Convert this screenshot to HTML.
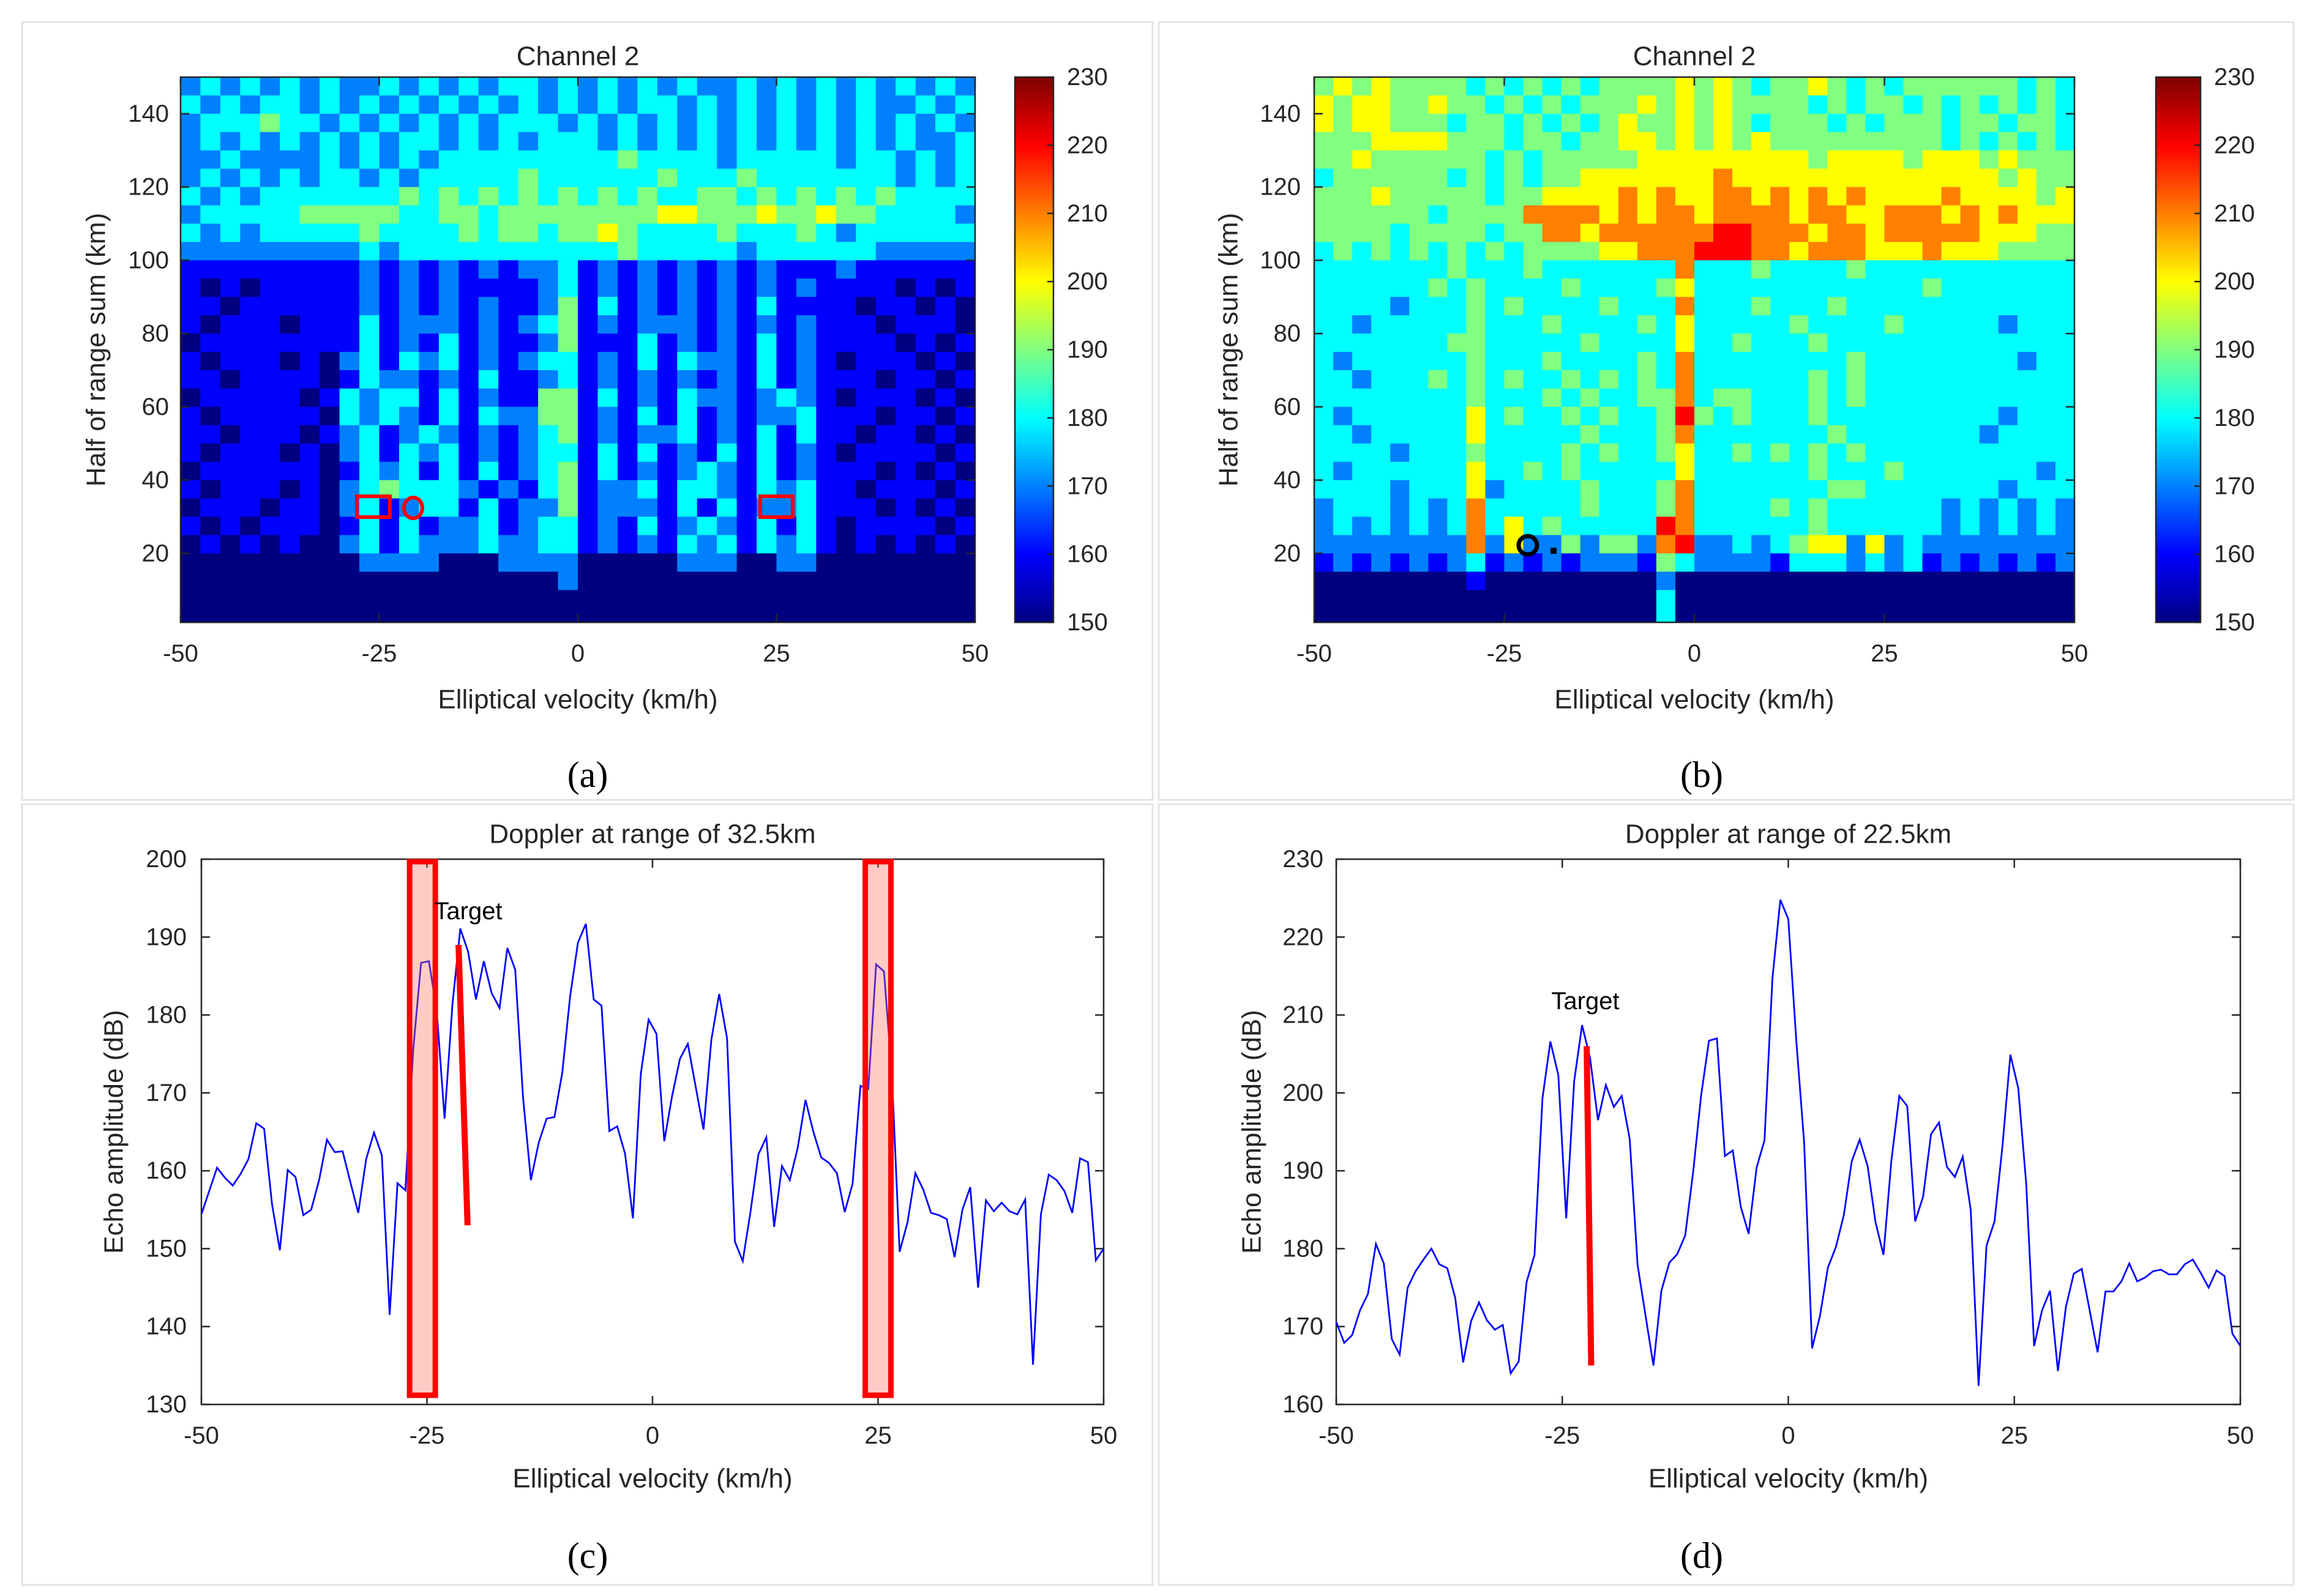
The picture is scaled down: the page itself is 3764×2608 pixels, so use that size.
<!DOCTYPE html>
<html><head><meta charset="utf-8"><style>
html,body{margin:0;padding:0;background:#fff}
svg{display:block}
text{font-family:"Liberation Sans",Arial,sans-serif;fill:#262626}
.lbl{font-family:"Liberation Serif",serif;fill:#000}
</style></head><body>
<svg id="fig" width="3764" height="2608" viewBox="0 0 3764 2608" xmlns="http://www.w3.org/2000/svg">
<rect x="0" y="0" width="3764" height="2608" fill="#fff"/>
<g fill="none" stroke="#e4e4e4" stroke-width="3">
<rect x="36" y="36" width="1847" height="1271"/>
<rect x="1893" y="36" width="1854" height="1271"/>
<rect x="36" y="1314" width="1847" height="1276"/>
<rect x="1893" y="1314" width="1854" height="1276"/>
</g>
<g id="root"></g>
</svg>
<script>
// ---------- DATA ----------
const heatA = [
"2323232322323232332323232322323232323232",
"3232332323232323232323233232323232322323",
"2333433232323232333232323232323232323232",
"2323232323233232323332323232323232323223",
"2232222323232333333333433332333332332323",
"2323232332323333343333334333433333332323",
"3232333333343434343434343344343434343333",
"2333334444433443444444445544454454433332",
"3232333334333343443445433334333432333333",
"2222222223233333333333433333233333322222",
"1111111112121212122312121212121112111111",
"1010111112121211112312121212121211110101",
"1101111112121212112413121212131111011010",
"1011101113122212123412122212121211101110",
"0111111113121312112411131212131211110101",
"1011101023132312123312131322131210111010",
"1101111013221213112312121212131211101101",
"0111110132331312114413121322123210111010",
"1011111032321313224412131312122311101101",
"1101110123123212123412122312131311011010",
"1011101023132312123313131213131210111101",
"0111111013231313123413121232131211101010",
"1011101023433321213412231332132311011101",
"0111011023123313122412221313122311101010",
"1010111013131223123312131232131310111101",
"0101010023132223223312121323132310101010",
"0000000002222000222200000222002200000000",
"0000000000000000000200000000000000000000",
"0000000000000000000000000000000000000000",
"0000000000000000000000000000000000000000"];
const heatB = [
"4545444434343434444545434454343444444343",
"5455445443434344454545444434344343434343",
"5455444344343434544545434443434443443443",
"4445555444344344554545454444444443434343",
"4454444443434444455555555545555455545444",
"3444444343434455555556555555555555554544",
"4445444443445555656556656565655556555545",
"4444443444466665656656666566556665656555",
"4444344443446656666667766656656666655544",
"3434343434344445566677766566655565554444",
"3333333433343333333633343333433333333333",
"3333334343333433334533333333333343333333",
"3333233343433334333633343334333333333333",
"3323333343334333343533333433334333332333",
"3333333443333343333533433343333333333333",
"3233333343334333343633333333433333333233",
"3323334343433434343633333343433333333333",
"3333333343334343344634433343433333333333",
"3233333353433434334743433343333333332333",
"3323333353333343334633333334333333323333",
"3333233343333434334533434343433333333333",
"3233333353343433333533333343334333333323",
"3333233352333343334633333334433333332333",
"2333232363333343334633334343333332323232",
"2323232363534333337633333343333332323232",
"2222222262522424426722323455252322222222",
"1212121231212122214322221333232312121212",
"0000000010000000002000000000000000000000",
"0000000000000000003000000000000000000000",
"0000000000000000003000000000000000000000"];
const doppC = [154.4,157.4,160.4,159.1,158.1,159.6,161.5,166.1,165.4,155.7,149.8,160.1,159.2,154.3,155.0,158.8,164.0,162.4,162.5,158.5,154.6,161.5,164.9,162.0,141.5,158.4,157.5,175.6,186.7,186.9,180.5,166.7,181.4,191.1,188.1,182.0,186.9,182.8,180.9,188.6,185.8,169.4,158.8,163.6,166.7,166.9,172.6,182.4,189.3,191.7,182.0,181.2,165.1,165.7,162.2,153.9,172.4,179.4,177.6,163.8,169.6,174.4,176.3,170.8,165.3,176.8,182.7,177.0,150.9,148.4,154.8,162.1,164.3,152.8,160.6,158.8,162.9,169.1,165.0,161.7,161.0,159.7,154.7,158.3,170.9,170.5,186.5,185.6,172.6,149.6,153.4,159.7,157.6,154.6,154.3,153.8,148.9,155.0,157.9,145.0,156.2,154.8,155.9,154.8,154.4,156.3,135.1,154.4,159.5,158.8,157.4,154.6,161.6,161.1,148.5,150.0];
const doppD = [170.6,167.9,168.9,172.1,174.2,180.6,178.1,168.4,166.4,175.0,177.1,178.6,180.0,178.0,177.5,173.7,165.4,170.7,173.1,170.8,169.6,170.2,164.0,165.5,175.7,179.2,199.3,206.6,202.3,183.9,201.5,208.7,204.5,196.5,201.0,198.2,199.6,194.1,177.9,171.4,165.0,174.6,178.2,179.3,181.7,189.8,199.6,206.7,207.0,191.9,192.6,185.4,181.9,190.4,193.9,214.7,224.8,222.3,206.8,193.6,167.2,171.4,177.6,180.2,184.3,191.2,194.0,190.6,183.4,179.2,191.3,199.6,198.3,183.5,186.7,194.7,196.2,190.5,189.2,191.8,185.0,162.4,180.4,183.5,193.1,204.9,200.6,188.3,167.5,172.1,174.6,164.3,172.5,176.8,177.4,172.1,166.7,174.5,174.5,175.8,178.1,175.8,176.3,177.1,177.3,176.7,176.7,178.0,178.6,176.9,175.0,177.2,176.5,169.1,167.5];
const xTicks = [-50,-25,0,25,50];
const rangeTicks = [20,40,60,80,100,120,140];
const cbarTicks = [150,160,170,180,190,200,210,220,230];
const cTicks = [130,140,150,160,170,180,190,200];
const dTicks = [160,170,180,190,200,210,220,230];
const targetC = [-21.5,189,-20.5,153];
const targetD = [-22.3,206,-21.8,165];
const boxesC = [-25.5,25];

// ---------- HELPERS ----------
const NS='http://www.w3.org/2000/svg';
const root=document.getElementById('root');
function mk(tag,attrs,parent){const e=document.createElementNS(NS,tag);for(const k in attrs)e.setAttribute(k,attrs[k]);(parent||root).appendChild(e);return e;}
function lin(d0,d1,r0,r1){return v=>r0+(v-d0)*(r1-r0)/(d1-d0);}
function jet(t){t=Math.max(0,Math.min(1,t));
 const f=(x)=>Math.max(0,Math.min(1,x));
 const r=f(Math.min(4*t-1.5,-4*t+4.5)),g=f(Math.min(4*t-0.5,-4*t+3.5)),b=f(Math.min(4*t+0.5,-4*t+2.5));
 return `rgb(${Math.round(r*255)},${Math.round(g*255)},${Math.round(b*255)})`;}
function txt(x,y,s,size,anchor,parent,name,cls){const t=mk('text',{x:x,y:y,'font-size':size,'text-anchor':anchor||'middle','dominant-baseline':'central'},parent);if(cls)t.setAttribute('class',cls);
 
 
 t.textContent=s;return t;}

function heatPanel(id,data,L,R,T,B,cbL,cbR,yLabX,yTickX){
 const g=mk('g',{});
 
 
 const sx=lin(-50,50,L,R), sy=lin(0,150,1024,126);
 const nr=data.length,nc=data[0].length;
 const cw=(R-L)/nc;
 for(let r=0;r<nr;r++){for(let c=0;c<nc;c++){
  const val=150+10*Number(data[r][c]);
  const km1=150-r*5, km0=km1-5;
  const y0=sy(km1), y1=Math.min(B,sy(km0));
  const x0=sx(-50+c*100/nc);
  const cell=mk('rect',{x:x0,y:y0,width:cw+0.6,height:y1-y0+0.6,fill:jet((val-150)/80)},g);
  
  
 }}
 const ax=mk('g',{stroke:'#262626','stroke-width':2.5,fill:'none'});
 
 
 mk('rect',{x:L,y:T,width:R-L,height:B-T},ax);
 xTicks.forEach(v=>{const x=sx(v);mk('line',{x1:x,y1:B,x2:x,y2:B-14},ax);mk('line',{x1:x,y1:T,x2:x,y2:T+14},ax);
  txt(x,1068,String(v),40,'middle',null,'x-tick-label');});
 rangeTicks.forEach(v=>{const y=sy(v);mk('line',{x1:L,y1:y,x2:L+14,y2:y},ax);mk('line',{x1:R,y1:y,x2:R-14,y2:y},ax);
  txt(yTickX,y,String(v),40,'end',null,'y-tick-label');});
 txt((L+R)/2,92,'Channel 2',44,'middle',null,'chart-title');
 txt((L+R)/2,1143,'Elliptical velocity (km/h)',44,'middle',null,'x-axis-title');
 const yl=txt(yLabX,(T+B)/2,'Half of range sum (km)',44,'middle',null,'y-axis-title');
 yl.setAttribute('transform',`rotate(-90 ${yLabX} ${(T+B)/2})`);
 const cb=mk('g',{});
 
 
 const cy=lin(150,230,B,T);
 for(let i=0;i<160;i++){const v0=150+i*0.5;mk('rect',{x:cbL,y:cy(v0+0.5),width:cbR-cbL,height:(B-T)/160+0.8,fill:jet((v0+0.25-150)/80)},cb);}
 mk('rect',{x:cbL,y:T,width:cbR-cbL,height:B-T,fill:'none',stroke:'#262626','stroke-width':2.5},cb);
 cbarTicks.forEach(v=>{const y=cy(v);mk('line',{x1:cbR,y1:y,x2:cbR-10,y2:y,stroke:'#262626','stroke-width':2.5},cb);
  txt(cbR+22,y,String(v),40,'start',cb,'colorbar-tick-label');});
 return {sx,sy};
}

function linePanel(id,data,L,R,T,B,ymin,ymax,ticks,title,yLabX,yTickX){
 const sx=lin(-50,50,L,R), sy=lin(ymin,ymax,B,T);
 const ax=mk('g',{stroke:'#262626','stroke-width':2.5,fill:'none'});
 
 
 mk('rect',{x:L,y:T,width:R-L,height:B-T,fill:'#fff'},ax);
 xTicks.forEach(v=>{const x=sx(v);mk('line',{x1:x,y1:B,x2:x,y2:B-14},ax);mk('line',{x1:x,y1:T,x2:x,y2:T+14},ax);
  txt(x,2346,String(v),40,'middle',null,'x-tick-label');});
 ticks.forEach(v=>{const y=sy(v);mk('line',{x1:L,y1:y,x2:L+14,y2:y},ax);mk('line',{x1:R,y1:y,x2:R-14,y2:y},ax);
  txt(yTickX,y,String(v),40,'end',null,'y-tick-label');});
 const n=data.length;
 const pts=data.map((v,i)=>`${sx(-50+i*100/(n-1)).toFixed(1)},${sy(v).toFixed(1)}`).join(' ');
 const pl=mk('polyline',{points:pts,fill:'none',stroke:'#0000ff','stroke-width':2.8,'stroke-linejoin':'miter'});
 
 
 txt((L+R)/2,1363,title,44,'middle',null,'chart-title');
 txt((L+R)/2,2416,'Elliptical velocity (km/h)',44,'middle',null,'x-axis-title');
 const yl=txt(yLabX,(T+B)/2,'Echo amplitude (dB)',44,'middle',null,'y-axis-title');
 yl.setAttribute('transform',`rotate(-90 ${yLabX} ${(T+B)/2})`);
 return {sx,sy};
}

// ---------- PANELS ----------
const A=heatPanel('panel-a',heatA,295,1593,126,1017,1658,1721,157,276);
const Bp=heatPanel('panel-b',heatB,2147,3389,126,1017,3522,3595,2007,2125);
let m;
m=mk('rect',{x:583,y:811,width:54,height:34,fill:'none',stroke:'#ff0000','stroke-width':6});


m=mk('rect',{x:1242,y:811,width:53,height:34,fill:'none',stroke:'#ff0000','stroke-width':6});


m=mk('ellipse',{cx:675,cy:830,rx:15,ry:17,fill:'none',stroke:'#ff0000','stroke-width':6});


m=mk('circle',{cx:2496,cy:891,r:15,fill:'none',stroke:'#000','stroke-width':7});


m=mk('rect',{x:2533,y:895,width:10,height:10,fill:'#000'});



const C=linePanel('panel-c',doppC,329,1803,1404,2295,130,200,cTicks,'Doppler at range of 32.5km',186,305);
boxesC.forEach(v=>{const x=C.sx(v);
 const b=mk('rect',{x:x-21,y:1408,width:42,height:872,fill:'rgba(255,110,90,0.35)',stroke:'#ff0000','stroke-width':9});
 
 });
m=mk('line',{x1:C.sx(targetC[0]),y1:C.sy(targetC[1]),x2:C.sx(targetC[2]),y2:C.sy(targetC[3]),stroke:'#ff0000','stroke-width':10});


txt(765,1489,'Target',40,'middle',null,'target-label-c').style.fill='#000';

const D=linePanel('panel-d',doppD,2183,3660,1404,2295,160,230,dTicks,'Doppler at range of 22.5km',2045,2162);
m=mk('line',{x1:D.sx(targetD[0]),y1:D.sy(targetD[1]),x2:D.sx(targetD[2]),y2:D.sy(targetD[3]),stroke:'#ff0000','stroke-width':10});


txt(2590,1636,'Target',40,'middle',null,'target-label-d').style.fill='#000';

txt(960,1266,'(a)',60,'middle',null,'panel-label-a','lbl');
txt(2780,1266,'(b)',60,'middle',null,'panel-label-b','lbl');
txt(960,2542,'(c)',60,'middle',null,'panel-label-c','lbl');
txt(2780,2542,'(d)',60,'middle',null,'panel-label-d','lbl');
</script>
</body></html>
